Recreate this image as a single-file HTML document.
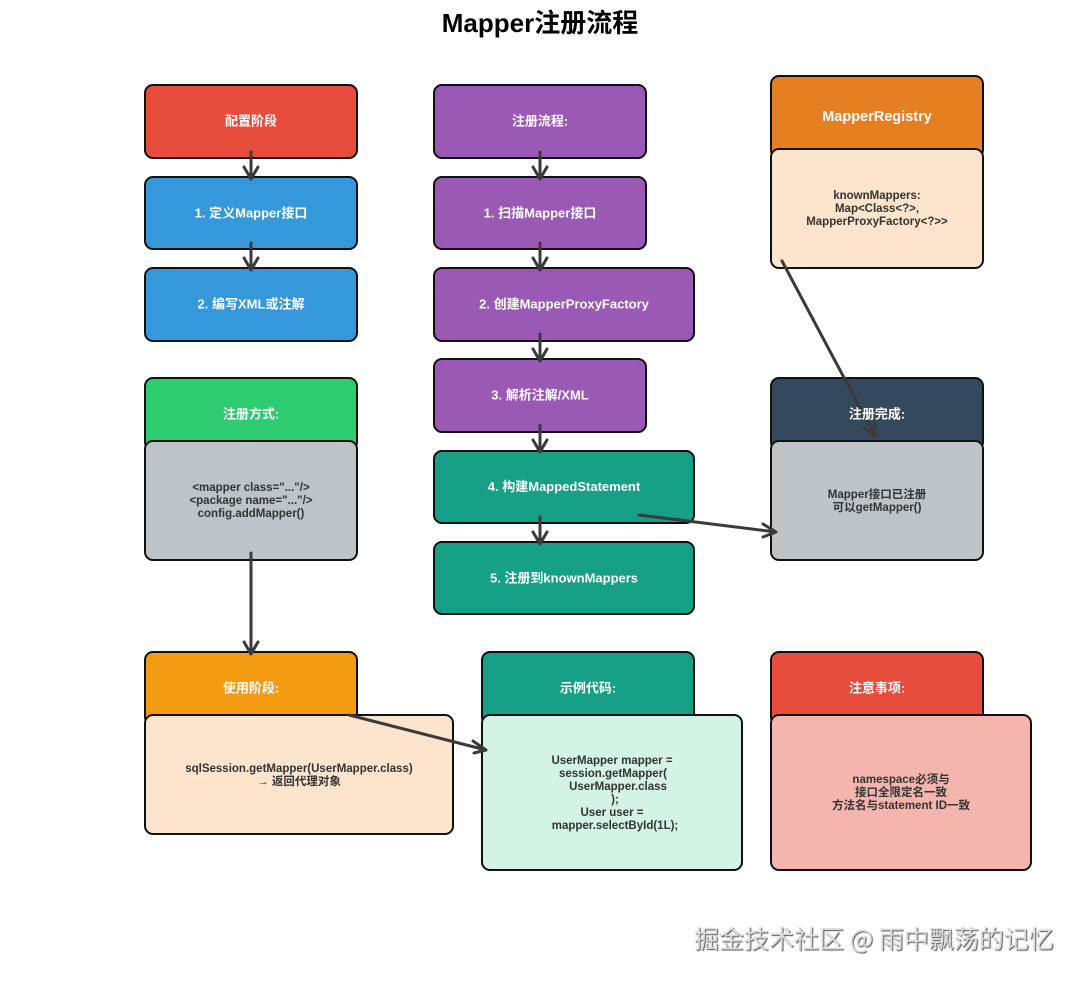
<!DOCTYPE html>
<html><head><meta charset="utf-8">
<style>
html,body{margin:0;padding:0;background:#fff;width:1080px;height:981px;overflow:hidden}
svg{position:absolute;left:0;top:0}
text{font-family:"Liberation Sans","Noto Sans CJK SC",sans-serif;font-weight:bold;text-anchor:middle}
.b{stroke:#111;stroke-width:2}
.w{fill:#fff;font-size:13px}
.d{fill:#333;font-size:11.5px}
.a{stroke:#3a3a3a;stroke-width:3;fill:none;stroke-linecap:round;stroke-linejoin:round}
#wm{position:absolute;left:694px;top:921px;width:370px;white-space:nowrap;font:25px/34px "Noto Sans CJK SC","Liberation Sans",sans-serif;color:#dcdcdc;text-shadow:1px 1px 1px #555,-1px -1px 0 #fff}
</style></head><body>
<svg width="1080" height="981" viewBox="0 0 1080 981" xmlns="http://www.w3.org/2000/svg">
<text x="540" y="32" style="font-size:26px" fill="#000">Mapper注册流程</text>
<g class="b">
<rect x="145" y="85" width="212" height="73" rx="8" fill="#e74c3c"/>
<rect x="145" y="177" width="212" height="72" rx="8" fill="#3498db"/>
<rect x="145" y="268" width="212" height="73" rx="8" fill="#3498db"/>
<rect x="145" y="378" width="212" height="72" rx="8" fill="#2ecc71"/>
<rect x="145" y="441" width="212" height="119" rx="8" fill="#bdc3c7"/>
<rect x="145" y="652" width="212" height="73" rx="8" fill="#f39c12"/>
<rect x="145" y="715" width="308" height="119" rx="8" fill="#fde4cc"/>
<rect x="434" y="85" width="212" height="73" rx="8" fill="#9b59b6"/>
<rect x="434" y="177" width="212" height="72" rx="8" fill="#9b59b6"/>
<rect x="434" y="268" width="260" height="73" rx="8" fill="#9b59b6"/>
<rect x="434" y="359" width="212" height="73" rx="8" fill="#9b59b6"/>
<rect x="434" y="451" width="260" height="72" rx="8" fill="#16a085"/>
<rect x="434" y="542" width="260" height="72" rx="8" fill="#16a085"/>
<rect x="482" y="652" width="212" height="73" rx="8" fill="#16a085"/>
<rect x="482" y="715" width="260" height="155" rx="8" fill="#d2f3e6"/>
<rect x="771" y="76" width="212" height="82" rx="8" fill="#e67e22"/>
<rect x="771" y="149" width="212" height="119" rx="8" fill="#fde4cc"/>
<rect x="771" y="378" width="212" height="72" rx="8" fill="#34495e"/>
<rect x="771" y="441" width="212" height="119" rx="8" fill="#bdc3c7"/>
<rect x="771" y="652" width="212" height="73" rx="8" fill="#e74c3c"/>
<rect x="771" y="715" width="260" height="155" rx="8" fill="#f5b5af"/>
</g>
<g class="a">
<path d="M251 152V179M244 167L251 179L258 167"/>
<path d="M251 243V270M244 258L251 270L258 258"/>
<path d="M540 152V179M533 167L540 179L547 167"/>
<path d="M540 243V270M533 258L540 270L547 258"/>
<path d="M540 334V361M533 349L540 361L547 349"/>
<path d="M540 425V452M533 440L540 452L547 440"/>
<path d="M540 517V544M533 532L540 544L547 532"/>
<path d="M251 553V654M244 642L251 654L258 642"/>
<path d="M782 261L875 436M864 428L875 436L875 423"/>
<path d="M639 515L776 532M763 524L776 532L763 537"/>
<path d="M349 715L486 750M473 741L486 750L474 753"/>
</g>
<text class="w" x="251" y="125.500">配置阶段</text>
<text class="w" x="251" y="217.500">1. 定义Mapper接口</text>
<text class="w" x="251" y="308.500">2. 编写XML或注解</text>
<text class="w" x="251" y="418.500">注册方式:</text>
<text class="d" x="251" y="491">&lt;mapper class="..."/&gt;</text>
<text class="d" x="251" y="504">&lt;package name="..."/&gt;</text>
<text class="d" x="251" y="517">config.addMapper()</text>
<text class="w" x="251" y="692.500">使用阶段:</text>
<text class="d" x="299" y="772">sqlSession.getMapper(UserMapper.class)</text>
<text class="d" x="299" y="785">→ 返回代理对象</text>
<text class="w" x="540" y="125.500">注册流程:</text>
<text class="w" x="540" y="217.500">1. 扫描Mapper接口</text>
<text class="w" x="564" y="308.500">2. 创建MapperProxyFactory</text>
<text class="w" x="540" y="399.500">3. 解析注解/XML</text>
<text class="w" x="564" y="491">4. 构建MappedStatement</text>
<text class="w" x="564" y="582.500">5. 注册到knownMappers</text>
<text class="w" x="588" y="692.500">示例代码:</text>
<text class="d" x="612" y="764">UserMapper mapper =</text>
<text class="d" x="613" y="777">session.getMapper(</text>
<text class="d" x="618" y="790">UserMapper.class</text>
<text class="d" x="615" y="803">);</text>
<text class="d" x="612" y="816">User user =</text>
<text class="d" x="615" y="829">mapper.selectById(1L);</text>
<text class="w" x="877" y="121" style="font-size:14.5px">MapperRegistry</text>
<text class="d" x="877" y="199">knownMappers:</text>
<text class="d" x="877" y="212">Map&lt;Class&lt;?&gt;,</text>
<text class="d" x="877" y="225">MapperProxyFactory&lt;?&gt;&gt;</text>
<text class="w" x="877" y="418.500">注册完成:</text>
<text class="d" x="877" y="498">Mapper接口已注册</text>
<text class="d" x="877" y="511">可以getMapper()</text>
<text class="w" x="877" y="692.500">注意事项:</text>
<text class="d" x="901" y="783">namespace必须与</text>
<text class="d" x="901" y="796">接口全限定名一致</text>
<text class="d" x="901" y="809">方法名与statement ID一致</text>
</svg>
<div id="wm">掘金技术社区 @ 雨中飘荡的记忆</div>
</body></html>
